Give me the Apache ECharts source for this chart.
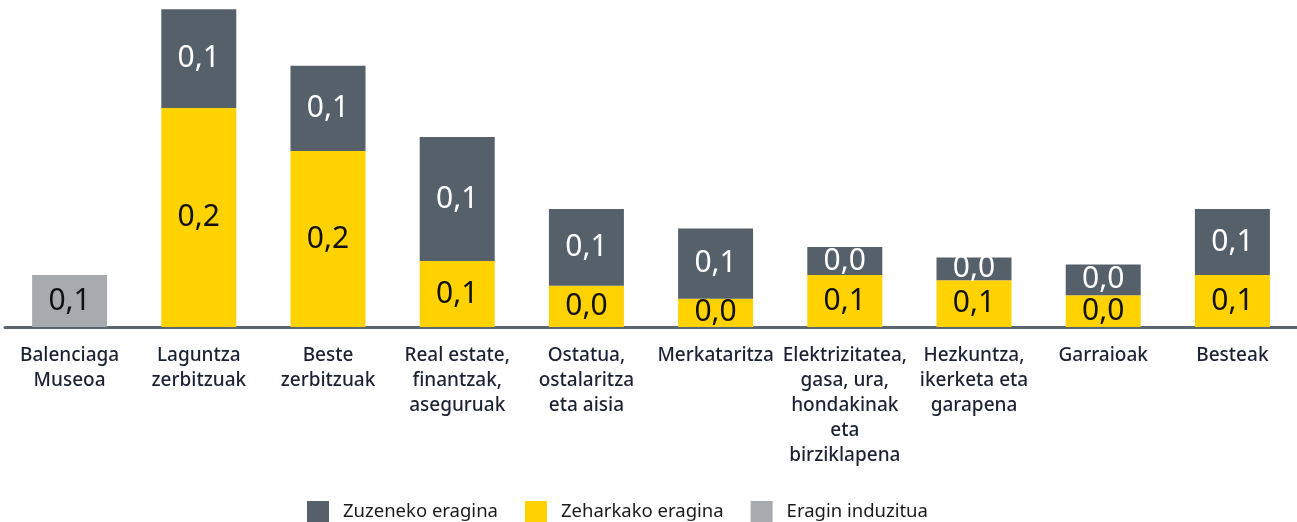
<!DOCTYPE html>
<html>
<head>
<meta charset="utf-8">
<script src="https://cdn.jsdelivr.net/npm/echarts@6/dist/echarts.min.js"></script>
<style>
  html, body { margin: 0; padding: 0; background: #fff; }
  #chart { width: 1297px; height: 522px; }
</style>
</head>
<body>
<div id="chart"></div>
<script>
// sektoreak (x ardatza)
var categories = [
    'Balenciaga\nMuseoa',
    'Laguntza\nzerbitzuak',
    'Beste\nzerbitzuak',
    'Real estate,\nfinantzak,\naseguruak',
    'Ostatua,\nostalaritza\neta aisia',
    'Merkataritza',
    'Elektrizitatea,\ngasa, ura,\nhondakinak\neta\nbirziklapena',
    'Hezkuntza,\nikerketa eta\ngarapena',
    'Garraioak',
    'Besteak'
];

// balioak irudiaren gainetik irakurrita (gutxi gorabehera)
var induzitua = [0.059, '-', '-', '-', '-', '-', '-', '-', '-', '-'];
var zeharkakoa = ['-', 0.249, 0.200, 0.075, 0.047, 0.032, 0.059, 0.053, 0.036, 0.059];
var zuzenekoa = ['-', 0.112, 0.097, 0.141, 0.087, 0.080, 0.032, 0.026, 0.035, 0.075];

var fontName = '"Noto Sans", "Open Sans", sans-serif';

function fmt(p) {
    return p.value.toFixed(1).replace('.', ',');
}

var myChart = echarts.init(document.getElementById('chart'));
var option = {
    animation: false,
    grid: {
        left: 5,
        right: 0,
        top: 1.4,
        bottom: 195
    },
    legend: {
        top: 496,
        left: 302,
        itemWidth: 22,
        itemHeight: 22,
        itemGap: 27,
        icon: 'rect',
        data: ['Zuzeneko eragina', 'Zeharkako eragina', 'Eragin induzitua'],
        textStyle: {
            fontFamily: fontName,
            fontSize: 18.5,
            padding: [0, 0, 0, 9],
            color: '#1a1a1a'
        }
    },
    xAxis: {
        type: 'category',
        data: categories,
        axisLine: {
            lineStyle: { color: '#5a636e', width: 3 }
        },
        axisTick: { show: false },
        axisLabel: {
            interval: 0,
            margin: 16,
            fontFamily: fontName,
            fontSize: 19,
            fontWeight: 500,
            lineHeight: 25,
            color: '#1a2233'
        }
    },
    yAxis: {
        type: 'value',
        min: 0,
        max: 0.37,
        show: false,
        splitLine: { show: false }
    },
    series: [
        {
            name: 'Eragin induzitua',
            type: 'bar',
            stack: 'guztira',
            barWidth: 75,
            data: induzitua,
            itemStyle: { color: '#a7abb0' },
            label: {
                show: true,
                position: 'inside',
                formatter: fmt,
                fontFamily: fontName,
                fontSize: 30,
                color: '#111'
            }
        },
        {
            name: 'Zeharkako eragina',
            type: 'bar',
            stack: 'guztira',
            barWidth: 75,
            data: zeharkakoa,
            itemStyle: { color: '#ffd200' },
            label: {
                show: true,
                position: 'inside',
                formatter: fmt,
                fontFamily: fontName,
                fontSize: 30,
                color: '#111'
            }
        },
        {
            name: 'Zuzeneko eragina',
            type: 'bar',
            stack: 'guztira',
            barWidth: 75,
            data: zuzenekoa,
            itemStyle: { color: '#56606b' },
            label: {
                show: true,
                position: 'inside',
                formatter: fmt,
                fontFamily: fontName,
                fontSize: 30,
                color: '#fff'
            }
        }
    ]
};
myChart.setOption(option);
</script>
</body>
</html>
